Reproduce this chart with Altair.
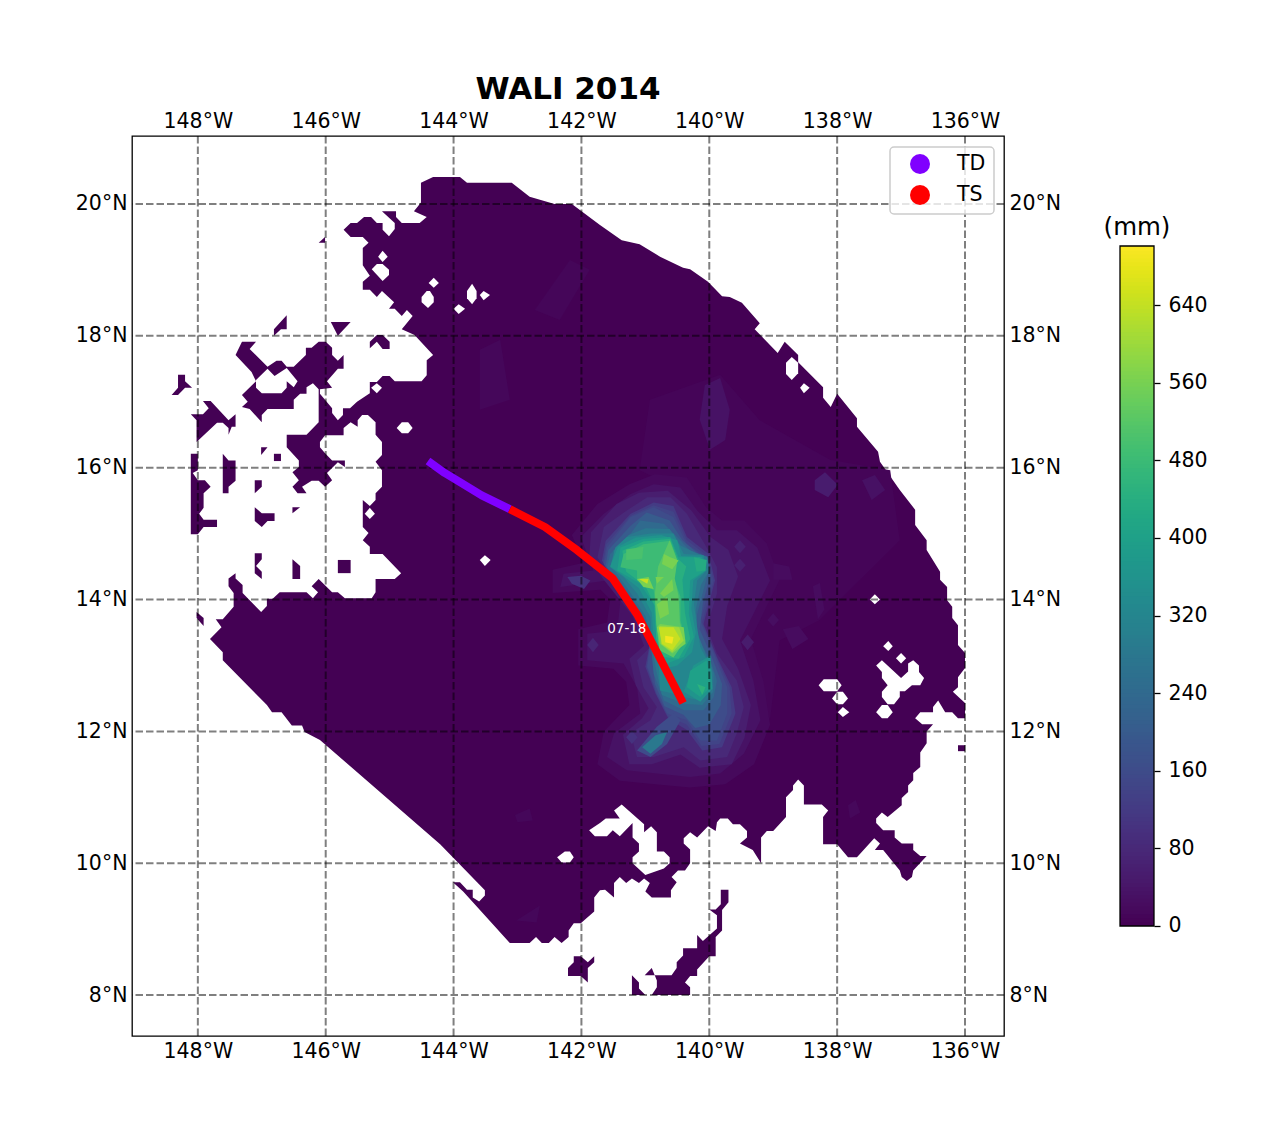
import altair as alt
import pandas as pd

FONT = "DejaVu Sans"
TITLE = "WALI 2014"
LON_TICKS = [-148, -146, -144, -142, -140, -138, -136]
LAT_TICKS = [8, 10, 12, 14, 16, 18, 20]
CBAR_TICKS = [0, 80, 160, 240, 320, 400, 480, 560, 640]
CBAR_MAX = 701

# Pairs below are (degrees west, degrees north)
MAIN = [(144.51,20.32),(144.32,20.41),(143.90,20.41),(143.79,20.32),(143.09,20.32),(142.81,20.11),(142.42,20.00),(142.15,20.00),(141.71,19.68),(141.37,19.45),(141.09,19.39),(140.77,19.20),(140.41,19.03),(140.30,19.01),(140.02,18.82),(139.80,18.60),(139.68,18.59),(139.49,18.50),(139.21,18.19),(139.29,18.10),(138.93,17.74),(138.82,17.91),(138.61,17.71),(138.61,17.60),(138.22,17.22),(138.22,17.06),(138.10,16.92),(138.00,17.12),(137.69,16.75),(137.69,16.62),(137.36,16.24),(137.33,16.09),(137.02,15.66),(136.78,15.36),(136.78,15.13),(136.60,14.90),(136.60,14.75),(136.39,14.42),(136.39,14.30),(136.28,14.19),(136.28,13.99),(136.20,13.89),(136.20,13.72),(136.11,13.61),(136.11,13.31),(136.00,13.19),(136.00,12.96),(136.11,12.82),(136.11,12.67),(136.19,12.60),(136.00,12.43),(136.00,12.20),(136.11,12.20),(136.20,12.29),(136.31,12.29),(136.42,12.47),(136.50,12.37),(136.50,12.29),(136.70,12.29),(136.78,12.20),(136.67,12.11),(136.50,12.11),(136.60,12.00),(136.60,11.82),(136.70,11.68),(136.70,11.46),(136.81,11.37),(136.81,11.26),(136.89,11.18),(136.89,11.08),(136.99,10.99),(136.99,10.88),(137.21,10.70),(137.30,10.77),(137.39,10.68),(137.39,10.61),(137.28,10.50),(137.10,10.50),(137.10,10.39),(136.99,10.30),(136.81,10.30),(136.81,10.20),(136.70,10.11),(136.60,10.11),(136.81,9.89),(136.83,9.79),(136.91,9.73),(136.99,9.79),(137.02,9.89),(137.28,10.20),(137.41,10.20),(137.33,10.30),(137.42,10.38),(137.69,10.09),(137.83,10.09),(138.00,10.29),(138.22,10.29),(138.22,10.70),(138.14,10.80),(138.24,10.89),(138.52,10.89),(138.52,11.18),(138.61,11.27),(138.69,11.18),(138.69,11.11),(138.80,11.00),(138.80,10.70),(139.00,10.49),(139.10,10.49),(139.19,10.39),(139.19,10.00),(139.32,10.20),(139.52,10.30),(139.41,10.39),(139.41,10.49),(139.52,10.59),(139.63,10.59),(139.71,10.68),(139.83,10.68),(139.88,10.62),(139.90,10.49),(140.02,10.56),(140.19,10.39),(140.30,10.47),(140.40,10.38),(140.40,10.30),(140.30,10.21),(140.30,10.00),(140.38,9.89),(140.49,9.89),(140.59,9.79),(140.51,9.71),(140.60,9.59),(140.60,9.48),(140.90,9.48),(141.00,9.57),(140.93,9.70),(141.02,9.77),(141.10,9.70),(141.21,9.77),(141.30,9.70),(141.40,9.79),(141.49,9.70),(141.49,9.48),(141.63,9.60),(141.71,9.59),(141.80,9.48),(141.80,9.27),(142.01,9.09),(142.12,9.09),(142.20,8.98),(142.20,8.88),(142.31,8.79),(142.42,8.88),(142.51,8.79),(142.62,8.79),(142.71,8.88),(142.81,8.79),(143.12,8.79),(143.85,9.57),(144.01,9.71),(143.90,9.71),(143.79,9.60),(143.70,9.60),(143.70,9.48),(143.60,9.42),(143.51,9.51),(143.51,9.59),(144.21,10.29),(146.09,11.87),(146.33,11.99),(146.37,12.09),(146.53,12.09),(146.69,12.29),(146.84,12.29),(146.92,12.40),(147.61,13.08),(147.61,13.20),(147.81,13.40),(147.63,13.58),(147.72,13.70),(147.61,13.70),(147.44,13.89),(147.44,14.10),(147.52,14.20),(147.52,14.32),(147.41,14.40),(147.41,14.32),(147.30,14.22),(147.30,14.10),(147.01,13.81),(146.92,13.90),(146.92,14.01),(146.83,14.01),(146.72,14.11),(146.30,14.11),(146.20,14.02),(146.12,14.11),(146.22,14.20),(146.11,14.31),(145.90,14.11),(145.81,14.11),(145.70,14.02),(145.28,14.02),(145.22,14.11),(145.22,14.31),(144.92,14.31),(144.82,14.40),(145.11,14.69),(145.31,14.69),(145.31,14.80),(145.42,14.90),(145.33,15.01),(145.42,15.10),(145.42,15.51),(145.31,15.42),(145.22,15.51),(145.22,15.61),(145.12,15.71),(145.12,15.96),(145.22,16.09),(145.12,16.19),(145.12,16.39),(145.22,16.50),(145.22,16.69),(145.34,16.80),(145.43,16.80),(145.50,16.72),(145.50,16.62),(145.61,16.69),(145.72,16.60),(145.72,16.49),(146.01,16.49),(146.09,16.39),(146.09,16.31),(146.01,16.22),(145.90,16.11),(145.70,16.11),(145.70,16.01),(145.81,16.08),(145.98,15.92),(145.90,15.81),(146.01,15.71),(146.11,15.80),(146.22,15.80),(146.37,15.71),(146.30,15.61),(146.44,15.61),(146.52,15.71),(146.42,15.81),(146.52,15.93),(146.42,16.01),(146.42,16.11),(146.61,16.31),(146.61,16.50),(146.30,16.50),(146.11,16.69),(146.11,16.90),(146.11,17.19),(146.20,17.28),(146.30,17.22),(146.30,17.12),(146.40,17.12),(146.50,17.03),(146.50,16.89),(146.91,16.89),(147.00,16.80),(147.00,16.69),(147.19,16.89),(147.31,16.92),(147.22,17.00),(147.31,17.10),(147.09,17.31),(147.16,17.45),(147.41,17.71),(147.31,17.91),(147.09,17.91),(147.19,17.80),(146.91,17.53),(146.77,17.62),(146.69,17.62),(146.61,17.53),(146.50,17.53),(146.31,17.71),(146.31,17.82),(146.22,17.82),(146.11,17.91),(146.00,17.91),(145.90,17.82),(145.90,17.71),(145.81,17.62),(145.72,17.71),(145.72,17.50),(145.81,17.50),(145.98,17.31),(145.90,17.21),(146.09,17.19),(146.09,17.12),(145.90,16.90),(145.90,16.83),(145.81,16.72),(145.73,16.80),(145.73,16.90),(145.62,16.90),(145.51,17.00),(145.31,17.13),(145.31,17.30),(145.20,17.30),(145.11,17.39),(145.00,17.39),(144.92,17.31),(144.50,17.31),(144.42,17.40),(144.42,17.63),(144.32,17.71),(144.61,18.01),(144.81,18.10),(144.64,18.30),(144.73,18.39),(144.81,18.30),(144.92,18.41),(145.01,18.41),(144.93,18.51),(145.12,18.68),(145.20,18.59),(145.31,18.70),(145.42,18.70),(145.42,18.82),(145.31,18.91),(145.42,19.07),(145.42,19.33),(145.33,19.41),(145.42,19.50),(145.61,19.50),(145.72,19.61),(145.61,19.71),(145.51,19.71),(145.40,19.80),(145.29,19.80),(145.20,19.71),(145.11,19.71),(145.11,19.61),(145.01,19.51),(144.92,19.62),(144.92,19.71),(145.12,19.89),(144.90,19.89),(144.90,19.80),(144.81,19.71),(144.53,19.71),(144.42,19.80),(144.62,19.89),(144.51,20.02)]

ISLANDS = [
 [(146.11,19.41),(146.01,19.50),(146.01,19.41)],
 [(146.81,18.0),(146.81,18.1),(146.61,18.31),(146.61,18.1),(146.70,18.1)],
 [(145.92,18.21),(145.61,18.21),(145.81,18.0)],
 [(145.31,17.81),(145.31,17.91),(145.20,18.01),(145.11,18.01),(145.0,17.91),(145.0,17.8),(145.11,17.8),(145.20,17.91)],
 [(148.31,17.41),(148.20,17.41),(148.20,17.31),(148.09,17.21),(148.20,17.21),(148.31,17.10),(148.41,17.10),(148.31,17.21)],
 [(147.92,17.01),(147.80,17.01),(147.52,16.72),(147.41,16.81),(147.41,16.62),(147.47,16.62),(147.52,16.50),(147.52,16.60),(147.61,16.68),(147.70,16.68),(148.02,16.39),(148.02,16.72),(148.11,16.81),(147.92,16.81),(147.83,16.90)],
 [(147.01,16.31),(146.91,16.31),(147.01,16.19)],
 [(146.81,16.21),(146.70,16.21),(146.70,16.10),(146.81,16.10)],
 [(148.11,16.21),(148.0,16.21),(148.0,15.96),(148.08,15.92),(148.0,15.81),(147.89,15.81),(147.80,15.71),(147.91,15.61),(147.91,15.39),(147.98,15.30),(147.91,15.21),(147.70,15.21),(147.70,15.10),(147.91,15.10),(148.0,14.99),(148.11,14.99)],
 [(147.61,16.21),(147.52,16.11),(147.41,16.11),(147.41,15.80),(147.52,15.71),(147.52,15.61),(147.61,15.61)],
 [(147.11,15.81),(147.0,15.81),(147.0,15.71),(147.11,15.61)],
 [(147.11,15.40),(147.0,15.31),(146.80,15.31),(146.80,15.19),(146.91,15.19),(147.0,15.10),(147.11,15.19)],
 [(146.52,15.40),(146.40,15.40),(146.52,15.31)],
 [(147.11,14.70),(147.0,14.70),(147.0,14.61),(147.09,14.51),(147.0,14.42),(147.0,14.31),(147.11,14.40)],
 [(146.52,14.61),(146.40,14.51),(146.40,14.31),(146.52,14.31)],
 [(145.81,14.60),(145.61,14.60),(145.61,14.40),(145.81,14.40)],
 [(148.02,13.81),(147.91,13.72),(147.91,13.60),(148.02,13.72)],
 [(142.12,8.59),(142.01,8.59),(141.90,8.50),(141.80,8.59),(141.80,8.50),(141.90,8.41),(141.90,8.19),(142.01,8.29),(142.21,8.29),(142.21,8.41),(142.12,8.50)],
 [(139.82,9.60),(139.70,9.60),(139.70,9.41),(139.80,9.29),(139.80,8.98),(139.90,8.88),(139.90,8.59),(140.0,8.59),(140.19,8.39),(140.19,8.29),(140.30,8.29),(140.38,8.19),(140.30,8.12),(140.30,8.0),(140.90,8.0),(140.82,8.12),(140.82,8.22),(140.90,8.41),(141.01,8.30),(140.82,8.30),(140.59,8.30),(140.51,8.41),(140.51,8.50),(140.41,8.60),(140.41,8.71),(140.19,8.71),(140.19,8.91),(140.10,8.82),(139.88,9.01),(139.88,9.21),(140.0,9.30),(139.90,9.30),(139.82,9.38)],
 [(141.21,8.30),(141.10,8.19),(141.10,8.10),(141.0,8.0),(141.21,8.0)],
 [(136.11,11.79),(136.0,11.79),(136.0,11.70),(136.11,11.70)],
]

HOLES = [
 [(145.18,19.20),(145.11,19.29),(145.03,19.20),(145.11,19.12)],
 [(145.28,19.01),(145.20,19.09),(145.11,19.09),(145.01,19.0),(145.01,18.92),(145.11,18.83)],
 [(144.39,18.80),(144.31,18.88),(144.23,18.80),(144.31,18.73)],
 [(144.5,18.59),(144.42,18.68),(144.37,18.68),(144.31,18.59),(144.31,18.51),(144.40,18.42),(144.50,18.51)],
 [(143.79,18.68),(143.71,18.79),(143.64,18.68),(143.64,18.57),(143.71,18.48),(143.79,18.57)],
 [(143.59,18.62),(143.53,18.68),(143.43,18.62),(143.53,18.54)],
 [(144.0,18.41),(143.92,18.48),(143.82,18.41),(143.92,18.33)],
 [(144.89,16.60),(144.81,16.69),(144.71,16.69),(144.64,16.60),(144.71,16.52),(144.81,16.52)],
 [(145.29,17.21),(145.20,17.28),(145.12,17.21),(145.20,17.13)],
 [(145.39,15.30),(145.31,15.39),(145.23,15.30),(145.31,15.22)],
 [(143.59,14.60),(143.51,14.67),(143.42,14.60),(143.51,14.51)],
 [(147.09,17.33),(146.91,17.50),(146.80,17.39),(146.61,17.51),(146.44,17.31),(146.50,17.22),(146.61,17.31),(146.61,17.21),(146.69,17.13),(147.0,17.13),(147.09,17.21)],
 [(141.88,10.50),(141.71,10.61),(141.62,10.68),(141.40,10.68),(141.49,10.80),(141.37,10.89),(141.02,10.59),(141.02,10.47),(140.91,10.56),(140.82,10.47),(140.82,10.18),(140.71,10.18),(140.62,10.09),(140.62,10.0),(140.71,9.92),(141.0,9.82),(141.2,10.0),(141.2,10.09),(141.10,10.18),(141.10,10.30),(141.2,10.39),(141.2,10.61),(141.40,10.41),(141.51,10.50),(141.60,10.41),(141.79,10.41)],
 [(142.38,10.09),(142.26,10.18),(142.18,10.18),(142.12,10.09),(142.18,10.01),(142.31,10.01)],
 [(138.80,17.59),(138.71,17.68),(138.61,17.59),(138.61,17.43),(138.71,17.33),(138.80,17.42)],
 [(138.58,17.21),(138.52,17.28),(138.43,17.21),(138.52,17.13)],
 [(137.49,14.0),(137.41,14.08),(137.33,14.0),(137.41,13.93)],
 [(137.28,13.29),(137.20,13.37),(137.13,13.29),(137.20,13.22)],
 [(137.08,13.11),(137.0,13.19),(136.92,13.11),(137.0,13.03)],
 [(137.39,13.0),(137.30,13.08),(137.0,12.81),(136.89,12.91),(136.89,13.03),(136.81,13.08),(136.72,13.0),(136.72,12.90),(136.64,12.81),(136.70,12.70),(136.83,12.70),(136.94,12.61),(137.02,12.61),(137.02,12.52),(137.11,12.41),(137.21,12.41),(137.30,12.52),(137.30,12.60),(137.21,12.70),(137.30,12.81),(137.30,12.90)],
 [(137.39,12.29),(137.30,12.40),(137.21,12.40),(137.13,12.29),(137.21,12.20),(137.30,12.20)],
 [(138.29,12.70),(138.21,12.79),(138.0,12.79),(137.93,12.70),(138.0,12.61),(138.21,12.61)],
 [(138.08,12.50),(138.0,12.60),(137.91,12.60),(137.83,12.50),(137.91,12.41),(138.0,12.41)],
 [(137.99,12.29),(137.91,12.37),(137.81,12.29),(137.91,12.22)],
]

# (rain in mm, outline); lower amounts are drawn first
RAIN = [
 (7, [(140.93,17.03),(139.83,17.41),(139.21,16.72),(138.11,16.12),(137.17,15.96),(137.02,14.90),(137.64,14.30),(138.27,13.69),(138.9,13.38),(139.05,12.17),(139.83,13.99),(140.15,15.51),(141.09,15.96)]),
 (9, [(142.73,18.39),(142.18,19.15),(141.87,19.0),(142.34,18.24)]),
 (10, [(143.59,17.79),(143.27,17.94),(143.12,17.03),(143.59,16.88)]),
 (10, [(143.04,10.73),(142.81,10.83),(142.76,10.65),(143.0,10.62)]),
 (10, [(143.02,9.13),(142.65,9.36),(142.70,9.10)]),
 (12, [(137.83,10.88),(137.71,10.96),(137.64,10.77),(137.80,10.68)]),
 (14, [(142.15,14.98),(141.75,15.45),(141.25,15.75),(140.85,15.90),(140.35,15.85),(140.05,15.40),(139.8,15.2),(139.45,15.2),(139.1,14.85),(138.9,14.3),(139.15,13.8),(139.35,13.4),(139.15,12.75),(139.05,12.1),(139.3,11.5),(139.75,11.2),(140.3,11.15),(140.85,11.2),(141.4,11.25),(141.75,11.5),(141.65,12.0),(141.25,12.4),(141.3,12.75),(141.5,12.95),(142.05,13.0),(142.05,13.55),(141.6,13.65),(141.55,14.0),(141.7,14.15),(142.45,14.1),(142.45,14.45),(142.0,14.55),(142.05,14.75)]),
 (20, [(139.0,14.55),(138.75,14.5),(138.7,14.3),(139.0,14.3)]),
 (20, [(138.85,13.55),(138.6,13.6),(138.45,13.4),(138.7,13.25)]),
 (20, [(138.38,14.2),(138.27,14.25),(138.2,13.85),(138.3,13.7)]),
 (32, [(140.07,17.25),(139.83,17.36),(139.68,16.88),(139.75,16.42),(139.99,16.27),(140.15,16.73)]),
 (52, [(138.35,15.81),(138.19,15.93),(137.99,15.74),(138.14,15.55),(138.35,15.66)]),
 (30, [(137.61,15.81),(137.41,15.89),(137.25,15.66),(137.46,15.51)]),
 (24, [(139.09,13.69),(139.0,13.79),(138.91,13.69),(139.0,13.59)]),
 (32, [(142.01,14.95),(141.65,15.30),(141.23,15.60),(140.87,15.75),(140.45,15.70),(140.19,15.35),(139.88,15.05),(139.57,15.05),(139.25,14.79),(139.05,14.29),(139.31,13.78),(139.52,13.38),(139.31,12.77),(139.20,12.17),(139.46,11.66),(139.83,11.36),(140.30,11.31),(140.82,11.36),(141.29,11.41),(141.60,11.61),(141.49,11.97),(141.08,12.27),(141.13,12.67),(141.34,13.03),(141.91,13.08),(141.91,13.48),(141.44,13.53),(141.39,13.98),(141.60,14.29),(142.33,14.19),(142.28,14.39),(141.81,14.44),(141.91,14.69)]),
 (55, [(141.85,15.02),(141.45,15.45),(141.10,15.62),(140.65,15.65),(140.28,15.35),(139.98,14.95),(139.7,14.75),(139.55,14.35),(139.72,13.9),(139.8,13.4),(139.55,12.95),(139.35,12.4),(139.45,11.9),(139.65,11.5),(140.15,11.45),(140.45,11.65),(140.9,11.5),(141.25,11.5),(141.35,11.95),(141.05,12.2),(140.95,12.35),(141.15,12.7),(141.25,13.1),(141.02,13.3),(141.2,13.75),(141.65,14.3),(141.88,14.62)]),
 (60, [(139.61,14.80),(139.52,14.9),(139.43,14.8),(139.52,14.7)]),
 (60, [(139.61,14.52),(139.52,14.62),(139.43,14.52),(139.52,14.42)]),
 (50, [(139.5,13.35),(139.4,13.47),(139.3,13.35),(139.4,13.23)]),
 (70, [(141.91,13.31),(141.82,13.42),(141.73,13.31),(141.82,13.2)]),
 (80, [(141.65,15.10),(141.29,15.35),(140.97,15.55),(140.61,15.55),(140.35,15.30),(140.04,14.79),(139.88,14.49),(139.88,14.09),(140.04,13.58),(139.88,13.18),(139.57,12.77),(139.46,12.37),(139.57,11.97),(139.72,11.61),(140.14,11.56),(140.40,11.76),(140.87,11.61),(141.13,11.61),(141.23,11.97),(140.92,12.17),(140.82,12.37),(141.03,12.67),(141.13,13.08),(140.92,13.28),(141.08,13.78),(141.55,14.34),(141.75,14.64)]),
 (100, [(142.22,14.34),(142.01,14.36),(141.86,14.29),(141.96,14.16),(142.15,14.24)]),
 (100, [(141.3,11.91),(141.21,12.01),(141.12,11.91),(141.21,11.81)]),
 (120, [(141.62,14.89),(141.23,15.30),(140.87,15.47),(140.56,15.42),(140.35,14.95),(140.01,14.69),(139.91,14.29),(140.09,13.63),(139.88,13.13),(139.65,12.67),(139.59,12.27),(139.80,11.76),(140.11,11.71),(140.35,12.02),(140.64,12.19),(140.84,12.57),(141.0,12.98),(140.92,13.38),(141.10,13.81),(141.49,14.29),(141.68,14.59)]),
 (140, [(141.61,14.84),(141.23,15.27),(140.87,15.43),(140.56,15.33),(140.35,14.9),(140.03,14.66),(139.93,14.29),(140.11,13.65),(139.9,13.15),(139.68,12.67),(139.65,12.27),(139.84,11.81),(140.12,11.78),(140.35,12.1),(140.65,12.23),(140.83,12.57),(140.98,12.98),(140.92,13.38),(141.12,13.82),(141.49,14.29),(141.66,14.56)]),
 (160, [(141.60,14.79),(141.23,15.25),(140.87,15.40),(140.56,15.25),(140.35,14.84),(140.04,14.64),(139.96,14.29),(140.14,13.68),(139.93,13.18),(139.72,12.67),(139.72,12.27),(139.88,11.86),(140.14,11.86),(140.35,12.17),(140.66,12.27),(140.82,12.57),(140.97,12.98),(140.92,13.38),(141.13,13.83),(141.49,14.29),(141.65,14.54)]),
 (160, [(141.13,11.71),(140.82,12.07),(140.56,12.27),(140.45,12.17),(140.66,11.81),(140.92,11.61)]),
 (200, [(141.58,14.75),(141.23,15.12),(140.98,15.32),(140.62,15.2),(140.42,14.9),(140.17,14.69),(139.98,14.38),(140.1,13.95),(140.15,13.55),(139.96,13.13),(139.8,12.72),(139.82,12.4),(140.0,12.1),(140.22,12.05),(140.4,12.25),(140.7,12.38),(140.85,12.72),(140.92,13.38),(141.1,13.8),(141.44,14.24),(141.62,14.52)]),
 (240, [(141.55,14.69),(141.23,15.0),(141.08,15.20),(140.71,15.15),(140.50,14.95),(140.30,14.74),(140.09,14.67),(140.01,14.44),(140.09,14.14),(140.19,13.78),(140.19,13.43),(139.98,13.08),(139.88,12.77),(139.93,12.52),(140.09,12.32),(140.40,12.32),(140.71,12.47),(140.87,12.87),(140.92,13.38),(141.08,13.78),(141.39,14.19),(141.60,14.49)]),
 (280, [(141.05,11.76),(140.84,11.94),(140.66,11.99),(140.74,11.81),(140.92,11.66)]),
 (280, [(141.5,14.74),(141.26,14.98),(141.0,15.08),(140.62,15.07),(140.45,14.82),(140.2,14.7),(140.03,14.65),(140.0,14.44),(140.13,14.22),(140.21,13.85),(140.19,13.5),(140.06,13.18),(139.93,12.88),(139.94,12.6),(140.11,12.4),(140.4,12.42),(140.74,12.55),(140.83,12.92),(140.91,13.38),(141.0,13.75),(141.26,14.14),(141.47,14.42)]),
 (320, [(141.47,14.79),(141.29,14.95),(140.92,15.0),(140.56,15.0),(140.40,14.69),(140.09,14.67),(140.04,14.44),(140.19,14.29),(140.24,13.93),(140.19,13.58),(140.14,13.28),(139.98,12.98),(139.98,12.67),(140.14,12.47),(140.40,12.52),(140.56,12.57),(140.77,12.62),(140.79,12.98),(140.90,13.38),(140.92,13.73),(141.13,14.09),(141.34,14.34),(141.55,14.49)]),
 (360, [(141.43,14.8),(141.15,14.94),(140.75,14.98),(140.5,14.9),(140.44,14.66),(140.11,14.65),(140.05,14.44),(140.25,14.29),(140.28,13.85),(140.21,13.5),(140.27,13.2),(140.5,13.0),(140.7,12.95),(140.81,13.1),(140.87,13.38),(140.9,13.8),(141.1,14.17),(141.4,14.4),(141.55,14.5)]),
 (360, [(140.25,13.0),(139.98,13.15),(139.95,12.65),(140.14,12.45),(140.4,12.6)]),
 (400, [(141.39,14.79),(141.03,14.92),(140.61,14.95),(140.48,14.64),(140.14,14.64),(140.06,14.44),(140.30,14.29),(140.32,13.78),(140.24,13.43),(140.40,13.13),(140.66,13.03),(140.82,13.23),(140.84,13.58),(140.87,13.93),(141.08,14.24),(141.44,14.44)]),
 (400, [(140.30,12.92),(140.04,13.08),(139.98,12.67),(140.14,12.52),(140.35,12.67)]),
 (430, [(140.24,14.64),(140.04,14.6),(140.06,14.44),(140.2,14.42)]),
 (440, [(141.36,14.74),(141.03,14.88),(140.61,14.92),(140.49,14.62),(140.36,14.5),(140.42,14.3),(140.38,13.8),(140.3,13.4),(140.48,13.1),(140.72,13.13),(140.83,13.4),(140.85,13.9),(141.0,14.2),(141.3,14.42)]),
 (450, [(140.19,12.72),(140.06,12.67),(140.11,12.55)]),
 (480, [(141.34,14.69),(141.03,14.84),(140.61,14.89),(140.50,14.59),(140.56,14.34),(140.45,14.04),(140.45,13.68),(140.37,13.38),(140.56,13.13),(140.77,13.23),(140.82,13.58),(140.84,13.88),(140.87,14.14),(141.13,14.29),(141.13,14.44),(141.39,14.49)]),
 (500, [(141.3,14.76),(141.03,14.8),(141.05,14.62),(141.3,14.6)]),
 (520, [(140.62,14.9),(140.5,14.59),(140.54,14.32),(140.48,14.05),(140.46,13.65),(140.38,13.38),(140.56,13.12),(140.78,13.23),(140.83,13.65),(140.85,14.1),(140.8,14.5)]),
 (560, [(140.77,13.63),(140.40,13.58),(140.37,13.33),(140.58,13.18),(140.77,13.33),(140.82,13.58)]),
 (560, [(140.82,13.93),(140.66,14.04),(140.63,13.78),(140.77,13.71)]),
 (560, [(140.71,14.69),(140.61,14.64),(140.48,14.59),(140.58,14.46),(140.74,14.54)]),
 (560, [(141.13,14.31),(140.95,14.34),(140.87,14.16),(141.03,14.19)]),
 (560, [(140.84,14.34),(140.71,14.34),(140.82,14.24)]),
 (560, [(140.77,14.09),(140.58,14.31),(140.56,14.14),(140.71,14.04)]),
 (600, [(140.78,13.6),(140.47,13.58),(140.4,13.38),(140.58,13.2),(140.75,13.32)]),
 (640, [(140.79,13.58),(140.56,13.58),(140.45,13.40),(140.58,13.23),(140.74,13.33)]),
 (640, [(141.10,14.31),(140.95,14.31),(140.97,14.24)]),
 (690, [(140.69,13.45),(140.56,13.43),(140.58,13.33),(140.69,13.35)]),
]

TRACK_TD = [(144.40,16.10),(144.14,15.92),(143.90,15.78),(143.56,15.58),(143.12,15.37)]
TRACK_TS = [(143.12,15.37),(142.57,15.10),(142.07,14.75),(141.51,14.32),(141.12,13.76),(140.82,13.20),(140.41,12.43)]
DATE_LABEL = ("07-18", 141.29, 13.55)
LEGEND_NAMES = ["TD", "TS"]
LEGEND_COLORS = ["#8000ff", "#ff0000"]


def frame(polys, values=None):
    rows = []
    for p, pts in enumerate(polys):
        closed = list(pts) + [pts[0]]
        for i, (w, n) in enumerate(closed):
            rows.append({"poly": p, "i": i, "lon": -w, "lat": n,
                         "v": 0 if values is None else values[p]})
    return pd.DataFrame(rows)


xs = alt.Scale(domain=[-149.03, -135.39], nice=False, zero=False)
ys = alt.Scale(domain=[7.38, 21.03], nice=False, zero=False)
cs = alt.Scale(scheme="viridis", domain=[0, CBAR_MAX])


def X(axis=None):
    return alt.X("lon:Q", scale=xs, axis=axis, title=None)


def Y(axis=None):
    return alt.Y("lat:Q", scale=ys, axis=axis, title=None)


common = dict(labelFont=FONT, labelFontSize=20.5, labelColor="black", ticks=False,
              domain=False, grid=False, labelPadding=5, title=None)
ax_b = alt.Axis(orient="bottom", values=LON_TICKS, labelExpr="abs(datum.value)+'°W'", **common)
ax_t = alt.Axis(orient="top", values=LON_TICKS, labelExpr="abs(datum.value)+'°W'", **common)
ax_l = alt.Axis(orient="left", values=LAT_TICKS, labelExpr="datum.value+'°N'", **common)
ax_r = alt.Axis(orient="right", values=LAT_TICKS, labelExpr="datum.value+'°N'", **common)

base = alt.Chart(frame([MAIN])).mark_line(filled=True, color="#440154", strokeWidth=0).encode(
    x=X(ax_b), y=Y(ax_l), detail="poly:N", order="i:Q")
holes = alt.Chart(frame(HOLES)).mark_line(filled=True, color="white", strokeWidth=0).encode(
    x=X(ax_t), y=Y(ax_r), detail="poly:N", order="i:Q")
isl = alt.Chart(frame(ISLANDS)).mark_line(filled=True, color="#440154", strokeWidth=0).encode(
    x=X(), y=Y(), detail="poly:N", order="i:Q")
rain_sorted = sorted(RAIN, key=lambda r: r[0])
rain = alt.Chart(frame([r[1] for r in rain_sorted], [r[0] for r in rain_sorted])).mark_line(filled=True, strokeWidth=0).encode(
    x=X(), y=Y(), detail="poly:N", order="i:Q",
    color=alt.Color("v:Q", scale=cs, legend=None))

grid_style = dict(color="black", opacity=0.5, strokeWidth=2, strokeDash=[7.5, 3])
grid_v = alt.Chart(pd.DataFrame({"lon": LON_TICKS})).mark_rule(**grid_style).encode(x=X())
grid_h = alt.Chart(pd.DataFrame({"lat": LAT_TICKS})).mark_rule(**grid_style).encode(y=Y())


def track(pts, colour):
    df = pd.DataFrame({"lon": [-p[0] for p in pts], "lat": [p[1] for p in pts], "i": range(len(pts))})
    return alt.Chart(df).mark_line(color=colour, strokeWidth=8, strokeCap="butt", strokeJoin="round").encode(
        x=X(), y=Y(), order="i:Q")


label = alt.Chart(pd.DataFrame({"lon": [-DATE_LABEL[1]], "lat": [DATE_LABEL[2]], "t": [DATE_LABEL[0]]})).mark_text(
    color="white", font=FONT, fontSize=13.5).encode(x=X(), y=Y(), text="t:N")

box = alt.Chart(pd.DataFrame({"a": [0]})).mark_rect(
    fill="white", fillOpacity=0.8, stroke="#cccccc", strokeWidth=1.5, cornerRadius=4).encode(
    x=alt.value(758), x2=alt.value(862), y=alt.value(11), y2=alt.value(78))
leg_df = pd.DataFrame({"name": LEGEND_NAMES, "colour": LEGEND_COLORS, "py": [28, 59]})
leg_pts = alt.Chart(leg_df).mark_point(filled=True, opacity=1, size=400).encode(
    x=alt.value(788), y=alt.Y("py:Q", scale=None), color=alt.Color("colour:N", scale=None, legend=None))
leg_txt = alt.Chart(leg_df).mark_text(font=FONT, fontSize=20.5, align="left", color="black").encode(
    x=alt.value(825), y=alt.Y("py:Q", scale=None), text="name:N")

main = alt.layer(base, holes, isl, rain, grid_v, grid_h, track(TRACK_TD, "#8000ff"), track(TRACK_TS, "#ff0000"),
                 label, box, leg_pts, leg_txt).resolve_axis(x="independent", y="independent").properties(
    width=872, height=900,
    view=alt.ViewBackground(stroke="black", strokeWidth=1.3),
    title=alt.TitleParams(TITLE, font=FONT, fontSize=31, fontWeight="bold", anchor="middle", offset=5, color="black"),
)

# Colour bar
cb_y = alt.Scale(domain=[-113.4, 814.4], nice=False, zero=False)
step = 4
cb_df = pd.DataFrame({"v": list(range(0, CBAR_MAX, step))})
cb_df["v2"] = (cb_df["v"] + 2 * step).clip(upper=CBAR_MAX)
cb = alt.Chart(cb_df).mark_rect().encode(
    x=alt.value(0), x2=alt.value(34),
    y=alt.Y("v:Q", scale=cb_y, title=None,
            axis=alt.Axis(orient="right", values=CBAR_TICKS, labelFont=FONT, labelFontSize=20.5, labelColor="black",
                          domain=False, grid=False, tickColor="black", tickSize=6, tickWidth=1.3, labelPadding=8)),
    y2="v2:Q",
    color=alt.Color("v:Q", scale=cs, legend=None))
cb_frame = alt.Chart(pd.DataFrame({"v": [0], "v2": [CBAR_MAX]})).mark_rect(
    fill=None, stroke="black", strokeWidth=1.3, filled=False).encode(
    x=alt.value(0), x2=alt.value(34),
    y=alt.Y("v:Q", scale=cb_y, axis=None), y2="v2:Q")
cb_title = alt.Chart(pd.DataFrame({"v": [720], "t": ["(mm)"]})).mark_text(
    font=FONT, fontSize=24.5, color="black").encode(
    x=alt.value(17), y=alt.Y("v:Q", scale=cb_y, axis=None), text="t:N")
cbar = alt.layer(cb, cb_frame, cb_title).resolve_axis(y="independent").properties(
    width=34, height=900, view=alt.ViewBackground(stroke=None))

chart = alt.hconcat(main, cbar, spacing=41).properties(
    padding={"left": 66, "top": 65, "right": 5, "bottom": 5},
    background="white")

chart.save("out.html", embed_options={"renderer": "svg", "actions": False})
